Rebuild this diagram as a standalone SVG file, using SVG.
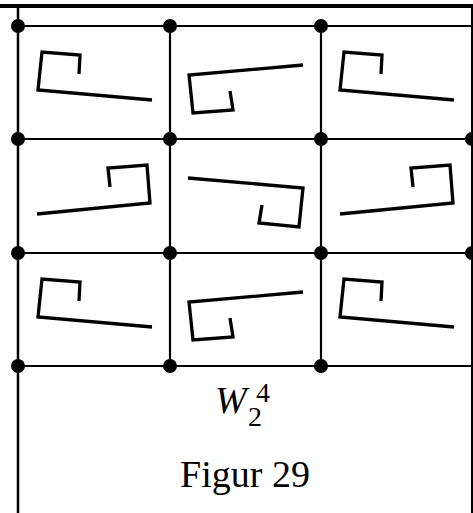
<svg xmlns="http://www.w3.org/2000/svg" width="473" height="513" viewBox="0 0 473 513">
<style>
.frame{stroke:#000;fill:none}
.grid{stroke:#000;stroke-width:2.2;fill:none}
.dot{fill:#000}
.glyph{stroke:#000;stroke-width:3.3;fill:none;stroke-linejoin:miter;stroke-linecap:butt}
.t{font-family:"Liberation Serif","Times New Roman",serif;fill:#000}
</style>
<defs>
<polyline id="gA" points="79,74 80,55 42,52 38,90 152,100"/>
<polyline id="gB" points="303,65 189,75 193,113 233,110 230,91"/>
<polyline id="gC" points="110,187 108,168 147,165 150,203 37,214"/>
<polyline id="gD" points="188,178 303,188 299,227 259,223 262,205"/>
</defs>
<rect x="0" y="0" width="473" height="513" fill="#fff"/>
<g id="frame">
<line class="frame" x1="0" y1="6" x2="473" y2="6" stroke-width="4"/>
<line class="frame" x1="18" y1="6" x2="18" y2="513" stroke-width="2.5"/>
<line class="frame" x1="472" y1="6" x2="472" y2="513" stroke-width="2"/>
</g>
<g id="connectors">
<line class="grid" x1="18" y1="26" x2="472" y2="26"/>
<line class="grid" x1="18" y1="139" x2="472" y2="139"/>
<line class="grid" x1="18" y1="253" x2="472" y2="253"/>
<line class="grid" x1="18" y1="366" x2="472" y2="366"/>
<line class="grid" x1="170" y1="26" x2="170" y2="366"/>
<line class="grid" x1="321" y1="26" x2="321" y2="366"/>
</g>
<g id="dots">
<circle class="dot" cx="18" cy="26" r="7"/>
<circle class="dot" cx="170" cy="26" r="7"/>
<circle class="dot" cx="321" cy="26" r="7"/>
<circle class="dot" cx="18" cy="139" r="7"/>
<circle class="dot" cx="170" cy="139" r="7"/>
<circle class="dot" cx="321" cy="139" r="7"/>
<circle class="dot" cx="472" cy="139" r="7"/>
<circle class="dot" cx="18" cy="253" r="7"/>
<circle class="dot" cx="170" cy="253" r="7"/>
<circle class="dot" cx="321" cy="253" r="7"/>
<circle class="dot" cx="472" cy="253" r="7"/>
<circle class="dot" cx="18" cy="366" r="7"/>
<circle class="dot" cx="170" cy="366" r="7"/>
<circle class="dot" cx="321" cy="366" r="7"/>
</g>
<g id="cell-0-0"><use href="#gA" class="glyph"/></g>
<g id="cell-0-1"><use href="#gB" class="glyph"/></g>
<g id="cell-0-2"><use href="#gA" class="glyph" transform="translate(302,0)"/></g>
<g id="cell-1-0"><use href="#gC" class="glyph"/></g>
<g id="cell-1-1"><use href="#gD" class="glyph"/></g>
<g id="cell-1-2"><use href="#gC" class="glyph" transform="translate(303,0)"/></g>
<g id="cell-2-0"><use href="#gA" class="glyph" transform="translate(0,227)"/></g>
<g id="cell-2-1"><use href="#gB" class="glyph" transform="translate(0,227)"/></g>
<g id="cell-2-2"><use href="#gA" class="glyph" transform="translate(302,227)"/></g>
<g id="label">
<text class="t" x="215" y="413" font-size="38" font-style="italic">W</text>
<text class="t" x="248" y="426" font-size="28">2</text>
<text class="t" x="256" y="402" font-size="28">4</text>
</g>
<g id="caption">
<text class="t" x="245" y="487" font-size="38" text-anchor="middle">Figur 29</text>
</g>
</svg>
